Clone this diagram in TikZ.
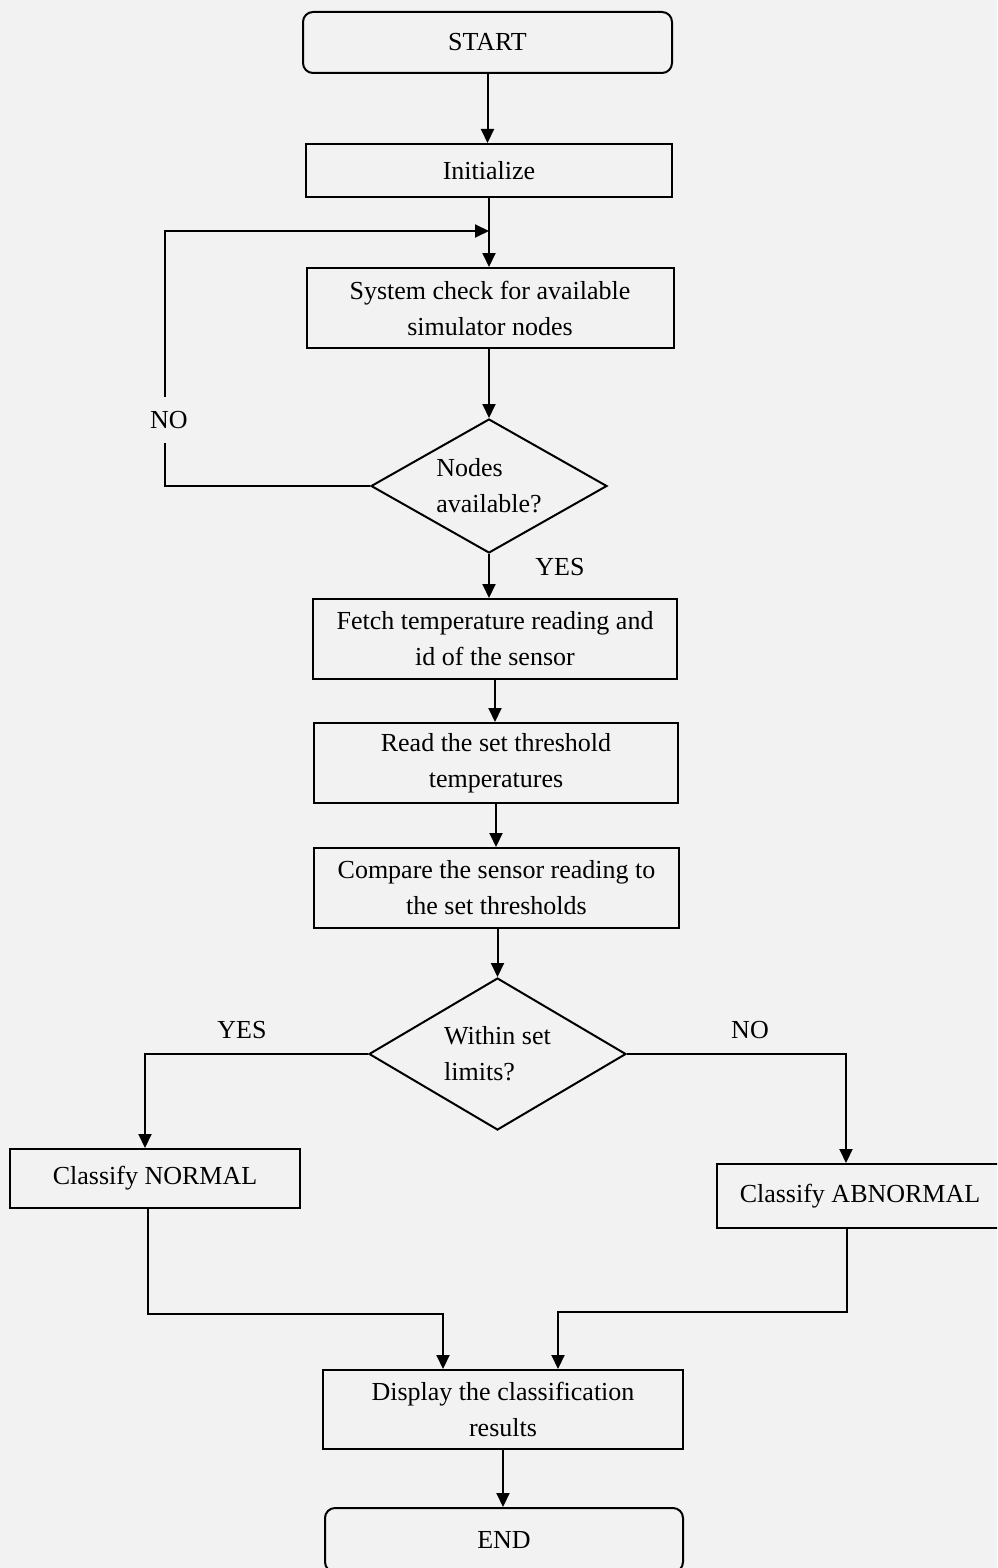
\documentclass[tikz,border=0pt]{standalone}
\usepackage{fontspec}
\setmainfont{Liberation Serif}
\usetikzlibrary{shapes.geometric,arrows.meta,calc}
\definecolor{paper}{gray}{0.95}
\begin{document}
\begin{tikzpicture}[x=0.5pt,y=-0.5pt,
  every node/.style={font=\fontsize{13pt}{18pt}\selectfont},
  box/.style={draw, line width=1pt, rectangle, inner sep=0pt, align=center},
  term/.style={box, rounded corners=5pt},
  dec/.style={draw, line width=1pt, diamond, aspect=1.76, inner sep=0pt, align=left},
  lbl/.style={inner sep=0pt},
  flow/.style={line width=1pt, -{Triangle[length=7pt,width=6.5pt]}},
  wire/.style={line width=1pt}]

% page
\clip (0,0) rectangle (997,1568);
\fill[paper] (0,0) rectangle (997,1568);

% process steps
\node[term, minimum width=184.5pt, minimum height=30.5pt] (start) at (487.5,42.5) {START};
\node[box, minimum width=183pt, minimum height=26.5pt] (init) at (489,170.5) {Initialize};
\node[box, minimum width=183.5pt, minimum height=40pt] (sys) at (490,308) {System check for available\\simulator nodes};
\node[dec, minimum width=118pt, minimum height=67pt] (d1) at (489,486) {Nodes\\available?};
\node[box, minimum width=182pt, minimum height=40pt] (fetch) at (495,639) {Fetch temperature reading and\\id of the sensor};
\node[box, minimum width=182pt, minimum height=40pt] (read) at (496,763) {Read the set threshold\\temperatures};
\node[box, minimum width=182.5pt, minimum height=40pt] (cmp) at (496.5,888) {Compare the sensor reading to\\the set thresholds};
\node[dec, aspect=1.69, minimum width=128.5pt, minimum height=76pt] (d2) at (497.5,1054) {Within set\\limits?};
\node[box, minimum width=145pt, minimum height=29.5pt] (normal) at (155,1178.5) {Classify NORMAL};
\node[box, minimum width=143pt, minimum height=32pt] (abnormal) at (860,1196) {Classify ABNORMAL};
\node[box, minimum width=180pt, minimum height=39.5pt] (disp) at (503,1409.5) {Display the classification\\results};
\node[term, minimum width=179pt, minimum height=32pt] (end) at (504,1540) {END};

% branch labels
\node[lbl, inner ysep=7pt] (no1) at (169,420) {NO};
\node[lbl] (yes1) at (560,567) {YES};
\node[lbl] (yes2) at (242,1030) {YES};
\node[lbl] (no2) at (750,1030) {NO};

% loop-back join point
\path (init.south) ++(0,33) coordinate (join);

% connectors
\draw[flow] (start.south) -- (start.south |- init.north);
\draw[flow] (init.south) -- (init.south |- sys.north);
\draw[wire] (d1.west) -| ([xshift=-2pt]no1.south);
\draw[flow] ([xshift=-2pt]no1.north) |- (join);
\draw[flow] (d1.north |- sys.south) -- (d1.north);
\draw[flow] (d1.south) -- (d1.south |- fetch.north);
\draw[flow] (fetch.south) -- (fetch.south |- read.north);
\draw[flow] (read.south) -- (read.south |- cmp.north);
\draw[flow] (d2.north |- cmp.south) -- (d2.north);
\draw[flow] (d2.west) -| ($(normal.north)+(-10,0)$);
\draw[flow] (d2.east) -| ($(abnormal.north)+(-14,0)$);
\draw[flow] ($(normal.south)+(-7,0)$) |- ($(disp.north)+(-60,-55)$) -- ($(disp.north)+(-60,0)$);
\draw[flow] ($(abnormal.south)+(-13,0)$) |- ($(disp.north)+(55,-57)$) -- ($(disp.north)+(55,0)$);
\draw[flow] (disp.south) -- (disp.south |- end.north);
\end{tikzpicture}
\end{document}
